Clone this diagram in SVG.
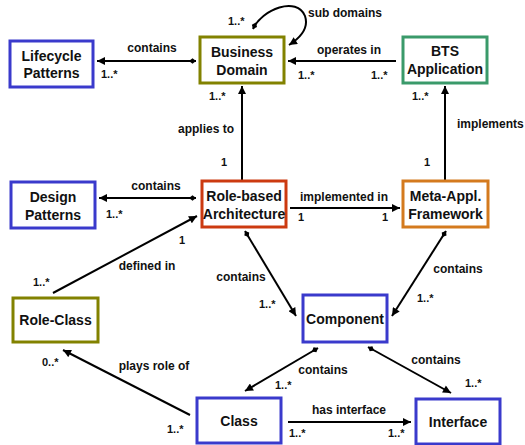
<svg xmlns="http://www.w3.org/2000/svg" width="525" height="445" viewBox="0 0 525 445">
<style>
.n{fill:#fff;stroke-width:3}
.blue{stroke:#3a3acc}.olive{stroke:#828200}.green{stroke:#3a9a6a}.red{stroke:#cc3a10}.orange{stroke:#d47a1e}
.t{font-family:"Liberation Sans",Arial,sans-serif;font-weight:bold;font-size:14px;fill:#111;text-anchor:middle}
.l{font-family:"Liberation Sans",Arial,sans-serif;font-weight:bold;font-size:12px;fill:#111;text-anchor:middle}
.m{font-family:"Liberation Sans",Arial,sans-serif;font-weight:bold;font-size:11px;fill:#111}
.c{fill:none;stroke:#000;stroke-width:2}
.a{marker-end:url(#arrow)}
.d{marker-start:url(#diamond)}
</style>
<defs>
<marker id="arrow" viewBox="0 0 10 10" markerWidth="9" markerHeight="8" refX="10" refY="5" orient="auto" markerUnits="userSpaceOnUse"><path d="M0,0 L10,5 L0,10 z" fill="#000"/></marker>
<marker id="diamond" viewBox="0 0 10 10" markerWidth="8" markerHeight="7" refX="0" refY="5" orient="auto" markerUnits="userSpaceOnUse"><path d="M0,5 L5,1 L10,5 L5,9 z" fill="#000"/></marker>
</defs>
<g id="connectors">
<path class="c d a" d="M196,61 L97,61"/>
<path class="c d a" d="M253,29 C262,9 297,-4 305,16 C309,28 300,38 289,45"/>
<path class="c a" d="M396,61 L288,61"/>
<path class="c a" d="M242,181 L242,86"/>
<path class="c a" d="M445,181 L445,86"/>
<path class="c d a" d="M196,198 L99,198"/>
<path class="c a" d="M290,208 L400,208"/>
<path class="c a" d="M53,293 L197,216"/>
<path class="c d a" d="M245,231 L296,316"/>
<path class="c d a" d="M446,231 L392,316"/>
<path class="c d a" d="M318,348 L245,391"/>
<path class="c d a" d="M368,347 L451,393"/>
<path class="c a" d="M190,415 L63,350"/>
<path class="c a" d="M288,422 L411,422"/>
<text class="l" x="152" y="52">contains</text>
<text class="m" x="101" y="78">1..*</text>
<text class="m" x="209" y="100">1..*</text>
<text class="m" x="228" y="25">1..*</text>
<text class="l" x="308" y="17" style="text-anchor:start">sub domains</text>
<text class="l" x="349" y="54">operates in</text>
<text class="m" x="298" y="79">1..*</text>
<text class="m" x="371" y="79">1..*</text>
<text class="m" x="412" y="100">1..*</text>
<text class="l" x="206" y="133">applies to</text>
<text class="m" x="221" y="166">1</text>
<text class="l" x="457" y="128" style="text-anchor:start">implements</text>
<text class="m" x="424" y="166">1</text>
<text class="l" x="156" y="190">contains</text>
<text class="m" x="106" y="218">1..*</text>
<text class="l" x="344" y="201">implemented in</text>
<text class="m" x="298" y="221">1</text>
<text class="m" x="382" y="221">1</text>
<text class="m" x="179" y="244">1</text>
<text class="l" x="147" y="270">defined in</text>
<text class="m" x="33" y="286">1..*</text>
<text class="l" x="241" y="281">contains</text>
<text class="m" x="259" y="308">1..*</text>
<text class="l" x="458" y="273">contains</text>
<text class="m" x="417" y="302">1..*</text>
<text class="l" x="323" y="374">contains</text>
<text class="m" x="275" y="389">1..*</text>
<text class="l" x="436" y="364">contains</text>
<text class="m" x="465" y="387">1..*</text>
<text class="l" x="154" y="370">plays role of</text>
<text class="m" x="42" y="366">0..*</text>
<text class="m" x="167" y="433">1..*</text>
<text class="l" x="349" y="414">has interface</text>
<text class="m" x="289" y="437">1..*</text>
<text class="m" x="388" y="437">1..*</text>
</g>
<g id="lifecycle"><rect class="n blue" x="10" y="41" width="83" height="46"/><text class="t" x="51.5" y="61">Lifecycle</text><text class="t" x="51.5" y="78">Patterns</text></g>
<g id="business"><rect class="n olive" x="200" y="37" width="84" height="46"/><text class="t" x="242" y="57">Business</text><text class="t" x="242" y="75">Domain</text></g>
<g id="bts"><rect class="n green" x="403" y="37" width="84" height="46"/><text class="t" x="445" y="56">BTS</text><text class="t" x="445" y="74">Application</text></g>
<g id="design"><rect class="n blue" x="11" y="182" width="84" height="46"/><text class="t" x="53" y="202">Design</text><text class="t" x="53" y="220">Patterns</text></g>
<g id="rolebased"><rect class="n red" x="202" y="181" width="84" height="46"/><text class="t" x="244" y="201">Role-based</text><text class="t" x="244" y="219">Architecture</text></g>
<g id="meta"><rect class="n orange" x="403" y="181" width="85" height="46"/><text class="t" x="445.5" y="201">Meta-Appl.</text><text class="t" x="445.5" y="219">Framework</text></g>
<g id="roleclass"><rect class="n olive" x="13" y="298" width="85" height="44"/><text class="t" x="55.5" y="325">Role-Class</text></g>
<g id="component"><rect class="n blue" x="303" y="295" width="84" height="47"/><text class="t" x="345" y="323.5">Component</text></g>
<g id="class"><rect class="n blue" x="197" y="398" width="84" height="45"/><text class="t" x="239" y="426">Class</text></g>
<g id="interface"><rect class="n blue" x="416" y="399" width="84" height="45"/><text class="t" x="458" y="427">Interface</text></g>
</svg>
